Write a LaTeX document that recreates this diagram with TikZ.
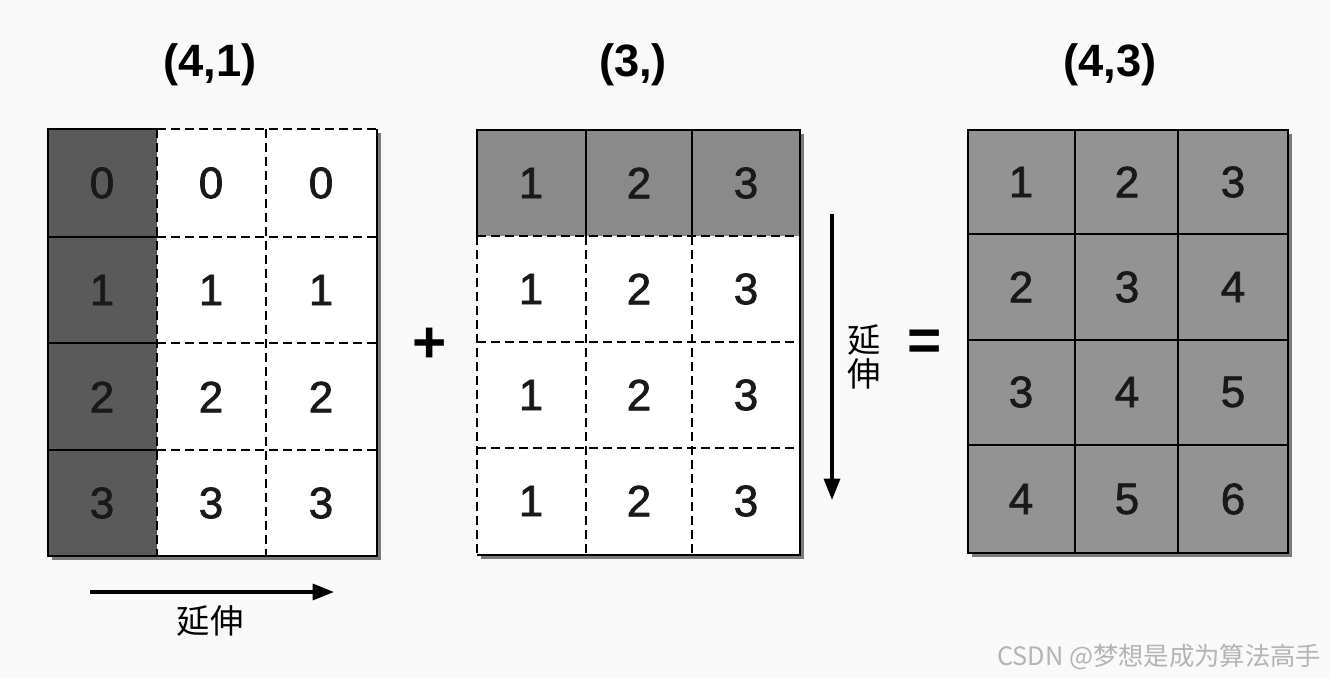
\documentclass[tikz,border=0pt]{standalone}
\usepackage{fontspec}
\setmainfont{Liberation Sans}
\newfontfamily\cjk{Noto Sans CJK SC}
\newfontfamily\digitfont{Liberation Sans}[BoldFont={Liberation Sans}, BoldFeatures={FakeBold=1.6}]
\usetikzlibrary{arrows.meta}
\definecolor{bgcol}{HTML}{F9F9F9}
\definecolor{darkcell}{HTML}{5A5A5A}
\definecolor{midcell}{HTML}{8A8A8A}
\definecolor{rescell}{HTML}{939393}
\definecolor{shadowcol}{HTML}{7A7A7A}
\definecolor{wmcol}{HTML}{B4B4B4}
\tikzset{
  gridline/.style={line width=1.5pt, black},
  dashline/.style={line width=1.4pt, black, dash pattern=on 6.5pt off 4pt},
  celltext/.style={font=\digitfont\bfseries\fontsize{33}{33}\selectfont, text=black!90},
  titletext/.style={font=\fontsize{34}{34}\selectfont\bfseries},
  optext/.style={font=\fontsize{44}{44}\selectfont\bfseries},
  cntext/.style={font=\cjk\fontsize{25}{29}\selectfont},
  extarrow/.style={line width=2.4pt, -{Triangle[length=16pt,width=12pt]}},
}
\begin{document}
\begin{tikzpicture}[x=0.75pt,y=-0.75pt]
\useasboundingbox (0,0) rectangle (1330,678);
\fill[bgcol] (0,0) rectangle (1330,678);

% ---------- titles ----------
\node[titletext] (t1) at (210,65) {(4,1)};
\node[titletext] (t2) at (633,65) {(3,)};
\node[titletext] (t3) at (1110,65) {(4,3)};

% ---------- left grid (4,1) ----------
\fill[shadowcol] (52,133) rectangle (381,560);
\fill[white] (48,129) rectangle (377,556);
\fill[darkcell] (48,129) rectangle (157,556);
\draw[dashline] (157,129) -- (377,129);
\draw[dashline] (157,129) -- (157,556);
\draw[dashline] (266,129) -- (266,556);
\foreach \y in {237,343,450} \draw[dashline] (157,\y) -- (377,\y);
\draw[gridline] (157,129) -- (48,129) -- (48,556) -- (377,556) -- (377,129);
\foreach \y in {237,343,450} \draw[gridline] (48,\y) -- (157,\y);
\foreach \r/\yc in {0/183,1/290,2/397,3/503}{
  \node[celltext] (L-\r-0) at (102,\yc) {\r};
  \node[celltext] (L-\r-1) at (211,\yc) {\r};
  \node[celltext] (L-\r-2) at (321,\yc) {\r};
}

% ---------- middle grid (3,) ----------
\fill[shadowcol] (481,134) rectangle (804,559);
\fill[white] (477,130) rectangle (800,555);
\fill[midcell] (477,130) rectangle (800,236);
\draw[dashline] (477,236) -- (477,555);
\foreach \y in {236,342,448} \draw[dashline] (477,\y) -- (800,\y);
\foreach \x in {586,692} \draw[dashline] (\x,236) -- (\x,555);
\draw[gridline] (477,236) -- (477,130) -- (800,130) -- (800,555) -- (477,555);
\foreach \x in {586,692} \draw[gridline] (\x,130) -- (\x,236);
\foreach \r/\yc in {0/183,1/289,2/395,3/501}{
  \node[celltext] (M-\r-0) at (531,\yc) {1};
  \node[celltext] (M-\r-1) at (639,\yc) {2};
  \node[celltext] (M-\r-2) at (746,\yc) {3};
}

% ---------- right grid (4,3) ----------
\fill[shadowcol] (972,134) rectangle (1292,557);
\fill[rescell] (968,130) rectangle (1288,553);
\draw[gridline] (968,130) rectangle (1288,553);
\foreach \x in {1075,1178} \draw[gridline] (\x,130) -- (\x,553);
\foreach \y in {234,340,445} \draw[gridline] (968,\y) -- (1288,\y);
\foreach \r/\yc in {0/182,1/287,2/392,3/499}{
  \pgfmathtruncatemacro{\a}{\r+1}
  \pgfmathtruncatemacro{\b}{\r+2}
  \pgfmathtruncatemacro{\c}{\r+3}
  \node[celltext] (R-\r-0) at (1021,\yc) {\a};
  \node[celltext] (R-\r-1) at (1127,\yc) {\b};
  \node[celltext] (R-\r-2) at (1233,\yc) {\c};
}

% ---------- operators ----------
\node[optext] (plus) at (430,345) {+};
\node[optext] (eq) at (925,345) {=};

% ---------- extension arrows ----------
\coordinate (ha1) at (90,592);
\coordinate (ha2) at (334,592);
\draw[extarrow] (ha1) -- (ha2);
\node[cntext] (hl) at (210,621) {延伸};

\coordinate (va1) at (832,214);
\coordinate (va2) at (832,500);
\draw[extarrow] (va1) -- (va2);
\node[cntext, align=center, inner sep=0pt] (vl) at (864,357) {延\\[-4pt]伸};

% ---------- watermark ----------
\node[anchor=east, text=wmcol, font=\cjk\fontsize{19}{19}\selectfont] (wm) at (1326,657) {CSDN @梦想是成为算法高手};
\end{tikzpicture}
\end{document}
